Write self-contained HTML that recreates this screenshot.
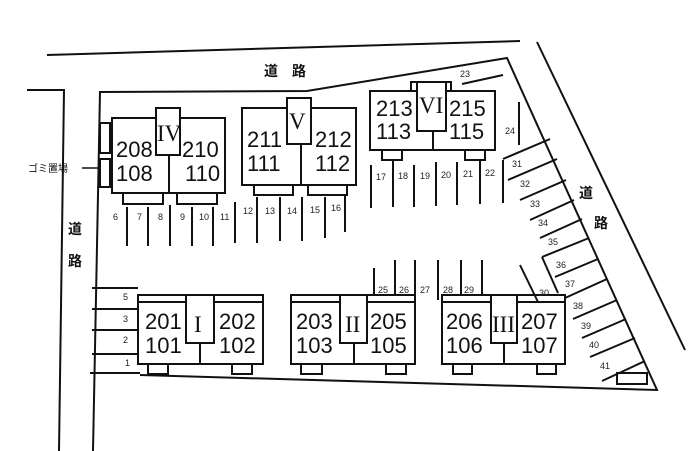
<!DOCTYPE html>
<html><head><meta charset="utf-8"><style>
html,body{margin:0;padding:0;background:#fff;}
svg{display:block;}
.n{font-family:"Liberation Sans",sans-serif;font-size:22px;fill:#111;}
.r{font-family:"Liberation Serif",serif;font-size:23px;fill:#111;}
.s{font-family:"Liberation Sans",sans-serif;font-size:9px;fill:#222;}
.j{font-family:"Liberation Sans","Noto Sans CJK JP",sans-serif;font-size:14px;font-weight:bold;fill:#111;}
</style></head><body>
<svg width="700" height="451" viewBox="0 0 700 451" xmlns="http://www.w3.org/2000/svg">
<g stroke="#111" stroke-width="2" fill="none">
<line x1="47" y1="55" x2="520" y2="41"/>
<polyline points="27,90 64,90 59,451"/>
<line x1="537" y1="42" x2="685" y2="350"/>
<polyline points="93,451 100,92 307,91 507,58 657,390 140,375"/>
<line x1="90" y1="373" x2="140" y2="373"/>
<line x1="92" y1="288" x2="138" y2="288"/>
<line x1="92" y1="309" x2="138" y2="309"/>
<line x1="92" y1="330" x2="138" y2="330"/>
<line x1="92" y1="354" x2="138" y2="354"/>
<rect x="100" y="123" width="10" height="30"/>
<rect x="100" y="159" width="10" height="28"/>
<line x1="82" y1="168" x2="100" y2="168" stroke-width="1.5"/>
<rect x="112" y="118" width="113" height="75"/>
<rect x="156" y="108" width="24" height="47" fill="#fff"/>
<line x1="169" y1="155" x2="169" y2="193"/>
<rect x="123" y="193" width="40" height="11"/>
<rect x="177" y="193" width="40" height="11"/>
<rect x="242" y="108" width="114" height="77"/>
<rect x="287" y="98" width="24" height="46" fill="#fff"/>
<line x1="301" y1="144" x2="301" y2="185"/>
<rect x="254" y="185" width="39" height="10"/>
<rect x="308" y="185" width="39" height="10"/>
<line x1="127" y1="207" x2="127" y2="246"/><line x1="148" y1="207" x2="148" y2="246"/>
<line x1="170" y1="205" x2="170" y2="246"/><line x1="192" y1="207" x2="192" y2="246"/>
<line x1="213" y1="207" x2="213" y2="246"/><line x1="235" y1="202" x2="235" y2="243"/>
<line x1="257" y1="197" x2="257" y2="243"/><line x1="280" y1="197" x2="280" y2="241"/>
<line x1="302" y1="197" x2="302" y2="241"/><line x1="325" y1="197" x2="325" y2="238"/>
<line x1="345" y1="195" x2="345" y2="232"/>
<rect x="370" y="91" width="125" height="59"/>
<rect x="411" y="82" width="40" height="9" fill="#fff"/>
<rect x="417" y="82" width="29" height="49" fill="#fff"/>
<line x1="433" y1="131" x2="433" y2="150"/>
<rect x="382" y="150" width="20" height="10"/>
<rect x="465" y="150" width="20" height="10"/>
<line x1="462" y1="84" x2="503" y2="75"/>
<line x1="519" y1="102" x2="519" y2="145"/>
<line x1="371" y1="165" x2="371" y2="208"/><line x1="393" y1="160" x2="393" y2="207"/>
<line x1="414" y1="165" x2="414" y2="207"/><line x1="436" y1="162" x2="436" y2="206"/>
<line x1="457" y1="162" x2="457" y2="205"/><line x1="480" y1="160" x2="480" y2="204"/>
<line x1="503" y1="160" x2="503" y2="203"/>
<line x1="503" y1="159" x2="550" y2="139"/>
<line x1="508" y1="180" x2="557" y2="159"/>
<line x1="520" y1="200" x2="566" y2="180"/>
<line x1="530" y1="220" x2="574" y2="200"/>
<line x1="540" y1="238" x2="582" y2="219"/>
<line x1="542" y1="257" x2="589" y2="238"/>
<line x1="542" y1="257" x2="558" y2="293"/>
<line x1="555" y1="277" x2="598" y2="259"/>
<line x1="565" y1="298" x2="607" y2="279"/>
<line x1="573" y1="319" x2="617" y2="300"/>
<line x1="582" y1="338" x2="626" y2="319"/>
<line x1="590" y1="357" x2="635" y2="338"/>
<line x1="602" y1="381" x2="645" y2="361"/>
<rect x="617" y="373" width="30" height="11"/>
<line x1="520" y1="265" x2="538" y2="302"/>
<line x1="374" y1="268" x2="374" y2="295"/><line x1="395" y1="260" x2="395" y2="295"/>
<line x1="415" y1="260" x2="415" y2="295"/><line x1="438" y1="260" x2="438" y2="300"/>
<line x1="461" y1="260" x2="461" y2="295"/><line x1="482" y1="260" x2="482" y2="295"/>
<rect x="138" y="295" width="125" height="69"/>
<line x1="138" y1="302" x2="263" y2="302"/>
<rect x="186" y="295" width="28" height="48" fill="#fff"/>
<line x1="200" y1="343" x2="200" y2="364"/>
<rect x="148" y="364" width="20" height="10"/>
<rect x="232" y="364" width="20" height="10"/>
<rect x="291" y="295" width="124" height="69"/>
<line x1="291" y1="302" x2="415" y2="302"/>
<rect x="340" y="295" width="27" height="48" fill="#fff"/>
<line x1="354" y1="343" x2="354" y2="364"/>
<rect x="301" y="364" width="21" height="10"/>
<rect x="386" y="364" width="20" height="10"/>
<rect x="442" y="295" width="123" height="69"/>
<line x1="442" y1="302" x2="565" y2="302"/>
<rect x="491" y="295" width="26" height="48" fill="#fff"/>
<line x1="504" y1="343" x2="504" y2="364"/>
<rect x="453" y="364" width="19" height="10"/>
<rect x="537" y="364" width="19" height="10"/>
</g>
<text class="n" x="116" y="157">208</text><text class="n" x="116" y="181">108</text>
<text class="n" x="182" y="157">210</text><text class="n" x="185" y="181">110</text>
<text class="r" x="157" y="141">IV</text>
<text class="n" x="247" y="147">211</text><text class="n" x="247" y="171">111</text>
<text class="n" x="315" y="147">212</text><text class="n" x="315" y="171">112</text>
<text class="r" x="289" y="129">V</text>
<text class="n" x="376" y="116">213</text><text class="n" x="376" y="139">113</text>
<text class="n" x="449" y="116">215</text><text class="n" x="449" y="139">115</text>
<text class="r" x="419" y="113">VI</text>
<text class="n" x="145" y="329">201</text><text class="n" x="145" y="353">101</text>
<text class="n" x="219" y="329">202</text><text class="n" x="219" y="353">102</text>
<text class="r" x="194" y="332">I</text>
<text class="n" x="296" y="329">203</text><text class="n" x="296" y="353">103</text>
<text class="n" x="370" y="329">205</text><text class="n" x="370" y="353">105</text>
<text class="r" x="345" y="332">II</text>
<text class="n" x="446" y="329">206</text><text class="n" x="446" y="353">106</text>
<text class="n" x="521" y="329">207</text><text class="n" x="521" y="353">107</text>
<text class="r" x="492" y="332">III</text>
<g class="s">
<text x="113" y="220">6</text><text x="137" y="220">7</text><text x="158" y="220">8</text>
<text x="180" y="220">9</text><text x="199" y="220">10</text><text x="220" y="220">11</text>
<text x="243" y="214">12</text><text x="265" y="214">13</text><text x="287" y="214">14</text>
<text x="310" y="213">15</text><text x="331" y="211">16</text>
<text x="376" y="180">17</text><text x="398" y="179">18</text><text x="420" y="179">19</text>
<text x="441" y="178">20</text><text x="463" y="177">21</text><text x="485" y="176">22</text>
<text x="460" y="77">23</text><text x="505" y="134">24</text>
<text x="512" y="167">31</text><text x="520" y="187">32</text><text x="530" y="207">33</text>
<text x="538" y="226">34</text><text x="548" y="245">35</text><text x="556" y="268">36</text>
<text x="565" y="287">37</text><text x="573" y="309">38</text><text x="581" y="329">39</text>
<text x="589" y="348">40</text><text x="600" y="369">41</text><text x="539" y="296">30</text>
<text x="378" y="293">25</text><text x="399" y="293">26</text><text x="420" y="293">27</text>
<text x="443" y="293">28</text><text x="464" y="293">29</text>
<text x="123" y="300">5</text><text x="123" y="322">3</text><text x="123" y="343">2</text><text x="125" y="366">1</text>
</g>
<text x="28" y="172" style="font-family:'Liberation Sans','Noto Sans CJK JP',sans-serif;font-size:10px;fill:#111;">ゴミ置場</text>
<text class="j" x="264" y="76">道　路</text>
<text class="j" x="68" y="234">道</text><text class="j" x="68" y="266">路</text>
<text class="j" x="579" y="198">道</text><text class="j" x="594" y="228">路</text>
</svg>
</body></html>
